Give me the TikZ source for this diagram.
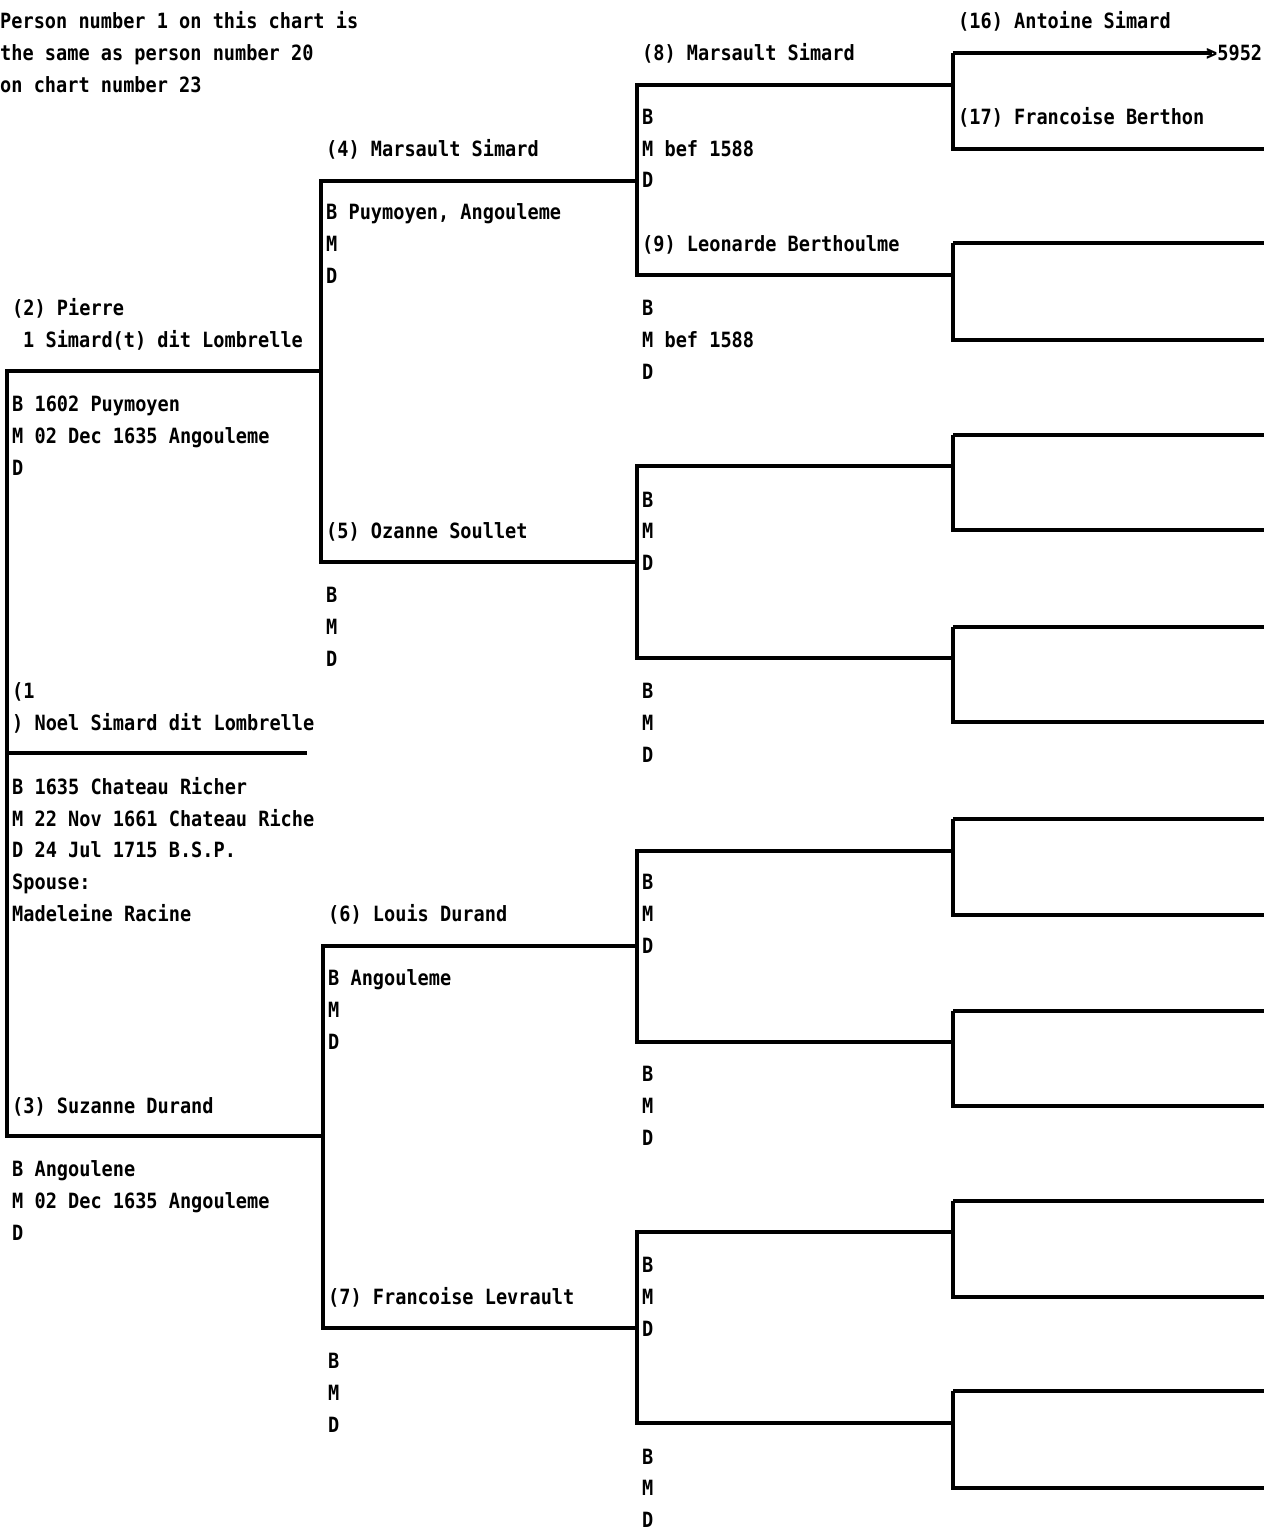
\documentclass[tikz,border=0pt]{standalone}
\usepackage{fontspec}
\newfontfamily\chartfont{DejaVu Sans Mono}[FakeStretch=0.885]
\newcommand\ptxt[4]{\node[tx] (#1) at (#2,{28.5+31.9*(#3)}) {#4};}
\begin{document}
\begin{tikzpicture}[x=1pt,y=-1pt,
  ln/.style={line width=3.2pt, line join=miter},
  tx/.style={anchor=base west, inner sep=0pt, font=\chartfont\bfseries\fontsize{21}{21}\selectfont}]
\useasboundingbox (0,0) rectangle (1276,1530);

% ---------- generation 1 ----------
\coordinate (p1top) at (7,371);
\coordinate (p1bot) at (7,1136);
\coordinate (p2end) at (321,371);
\coordinate (p3end) at (323,1136);
\draw[ln] (p2end) -- (p1top) -- (p1bot) -- (p3end);
\coordinate (u1a) at (7,753);
\coordinate (u1b) at (307,753);
\draw[ln] (u1a) -- (u1b);

% ---------- generation 2 ----------
\coordinate (p4s) at (321,181);  \coordinate (p4e) at (637,181);
\coordinate (p5s) at (321,562);  \coordinate (p5e) at (637,562);
\coordinate (p6s) at (323,946);  \coordinate (p6e) at (637,946);
\coordinate (p7s) at (323,1328); \coordinate (p7e) at (637,1328);
\draw[ln] (p4e) -- (p4s) -- (p5s) -- (p5e);
\draw[ln] (p6e) -- (p6s) -- (p7s) -- (p7e);

% ---------- generation 3 ----------
\foreach \a/\ya/\b/\yb in {8/85/9/275, 10/466/11/658, 12/851/13/1042, 14/1232/15/1423}{
  \coordinate (p\a s) at (637,\ya); \coordinate (p\a e) at (953,\ya);
  \coordinate (p\b s) at (637,\yb); \coordinate (p\b e) at (953,\yb);
  \draw[ln] (p\a e) -- (p\a s) -- (p\b s) -- (p\b e);
}

% ---------- generation 4 ----------
\foreach \a/\ya/\b/\yb in {16/53/17/149, 18/243/19/340, 20/435/21/530, 22/627/23/722,
    24/819/25/915, 26/1011/27/1106, 28/1201/29/1297, 30/1391/31/1488}{
  \coordinate (q\a s) at (953,\ya); \coordinate (q\a e) at (1264,\ya);
  \coordinate (q\b s) at (953,\yb); \coordinate (q\b e) at (1264,\yb);
  \draw[ln] (q\a s) -- (q\b s) -- (q\b e);
}
\coordinate (q16x) at (1212,53);
\draw[ln] (q16s) -- (q16x);
\foreach \a in {18,20,22,24,26,28,30}{ \draw[ln] (q\a s) -- (q\a e); }

% ---------- header ----------
\ptxt{h1}{0}{0}{Person number 1 on this chart is}
\ptxt{h2}{0}{1}{the same as person number 20}
\ptxt{h3}{0}{2}{on chart number 23}

% ---------- column 4 ----------
\ptxt{n16}{958}{0}{(16) Antoine Simard}
\ptxt{ref16}{1206}{1}{>5952}
\ptxt{n17}{958}{3}{(17) Francoise Berthon}

% ---------- column 3 ----------
\ptxt{n8}{642}{1}{(8) Marsault Simard}
\ptxt{b8}{642}{3}{B}
\ptxt{m8}{642}{4}{M bef 1588}
\ptxt{d8}{642}{5}{D}
\ptxt{n9}{642}{7}{(9) Leonarde Berthoulme}
\ptxt{b9}{642}{9}{B}
\ptxt{m9}{642}{10}{M bef 1588}
\ptxt{d9}{642}{11}{D}
\foreach \r [count=\i from 10] in {15,21,27,33,39,45}{
  \ptxt{b\i}{642}{\r}{B}
  \ptxt{m\i}{642}{\r+1}{M}
  \ptxt{d\i}{642}{\r+2}{D}
}

% ---------- column 2 ----------
\ptxt{n4}{326}{4}{(4) Marsault Simard}
\ptxt{b4}{326}{6}{B Puymoyen, Angouleme}
\ptxt{m4}{326}{7}{M}
\ptxt{d4}{326}{8}{D}
\ptxt{n5}{326}{16}{(5) Ozanne Soullet}
\ptxt{b5}{326}{18}{B}
\ptxt{m5}{326}{19}{M}
\ptxt{d5}{326}{20}{D}
\ptxt{n6}{328}{28}{(6) Louis Durand}
\ptxt{b6}{328}{30}{B Angouleme}
\ptxt{m6}{328}{31}{M}
\ptxt{d6}{328}{32}{D}
\ptxt{n7}{328}{40}{(7) Francoise Levrault}
\ptxt{b7}{328}{42}{B}
\ptxt{m7}{328}{43}{M}
\ptxt{d7}{328}{44}{D}

% ---------- column 1 ----------
\ptxt{n2}{12}{9}{(2) Pierre}
\ptxt{n2b}{23}{10}{1 Simard(t) dit Lombrelle}
\ptxt{b2}{12}{12}{B 1602 Puymoyen}
\ptxt{m2}{12}{13}{M 02 Dec 1635 Angouleme}
\ptxt{d2}{12}{14}{D}
\ptxt{n1}{12}{21}{(1}
\ptxt{n1b}{12}{22}{) Noel Simard dit Lombrelle}
\ptxt{b1}{12}{24}{B 1635 Chateau Richer}
\ptxt{m1}{12}{25}{M 22 Nov 1661 Chateau Riche}
\ptxt{d1}{12}{26}{D 24 Jul 1715 B.S.P.}
\ptxt{s1}{12}{27}{Spouse:}
\ptxt{s1b}{12}{28}{Madeleine Racine}
\ptxt{n3}{12}{34}{(3) Suzanne Durand}
\ptxt{b3}{12}{36}{B Angoulene}
\ptxt{m3}{12}{37}{M 02 Dec 1635 Angouleme}
\ptxt{d3}{12}{38}{D}
\end{tikzpicture}
\end{document}
